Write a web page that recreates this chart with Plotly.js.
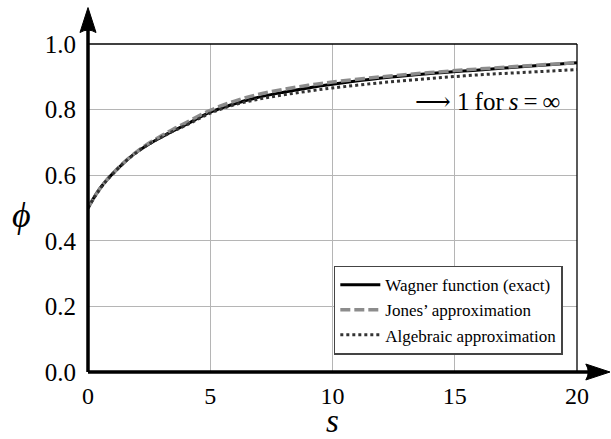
<!DOCTYPE html>
<html>
<head>
<meta charset="utf-8">
<script src="https://cdn.plot.ly/plotly-3.0.1.min.js"></script>
<style>html,body{margin:0;padding:0;background:#fff;}#chart{width:611px;height:439px;}</style>
</head>
<body>
<div id="chart"></div>
<script>
// Values
var s = [0, 0.25, 0.5, 0.75, 1, 1.5, 2, 2.5, 3, 3.5, 4, 5, 6, 7, 8, 9, 10, 12, 14, 16, 18, 20];
var wagner = [0.500, 0.533, 0.561, 0.584, 0.604, 0.640, 0.671, 0.695, 0.716, 0.736, 0.754, 0.792, 0.818, 0.838, 0.853, 0.866, 0.877, 0.896, 0.910, 0.921, 0.932, 0.943];
var jones = [0.500, 0.532, 0.560, 0.584, 0.604, 0.641, 0.672, 0.698, 0.720, 0.741, 0.760, 0.798, 0.826, 0.847, 0.862, 0.874, 0.884, 0.900, 0.913, 0.924, 0.934, 0.943];
var algebraic = [0.500, 0.531, 0.559, 0.583, 0.603, 0.640, 0.670, 0.695, 0.716, 0.735, 0.752, 0.789, 0.815, 0.832, 0.845, 0.856, 0.866, 0.882, 0.895, 0.906, 0.914, 0.922];
var seriesNames = ["Wagner function (exact)", "Jones\u2019 approximation", "Algebraic approximation"];
var xTicks = [0, 5, 10, 15, 20];
var yTicks = [0.0, 0.2, 0.4, 0.6, 0.8, 1.0];
var yTickText = ["0.0", "0.2", "0.4", "0.6", "0.8", "1.0"];
var xTitle = "<i>s</i>";
var yTitle = "<i>\u03d5</i>";
var note = "\u27f6 1\u2009for\u2009<i>s</i>\u2009=\u2009\u221e";

var serif = "'Liberation Serif', 'DejaVu Serif', serif";

var traces = [
  {x: s, y: wagner, name: seriesNames[0], mode: "lines", line: {color: "#000000", width: 3, shape: "spline"}},
  {x: s, y: jones, name: seriesNames[1], mode: "lines", line: {color: "#8c8c8c", width: 3.5, dash: "10px,4px", shape: "spline"}},
  {x: s, y: algebraic, name: seriesNames[2], mode: "lines", line: {color: "#333333", width: 3, dash: "3px,3px", shape: "spline"}}
];

var ax = 0.0164, ay = 0.0243;
var layout = {
  width: 611, height: 439,
  margin: {l: 88, r: 34, t: 43.5, b: 66.5},
  paper_bgcolor: "#ffffff", plot_bgcolor: "#ffffff",
  showlegend: true,
  font: {family: serif, color: "#000"},
  xaxis: {
    range: [0, 20], tickvals: xTicks, ticktext: xTicks.map(String),
    showgrid: true, gridcolor: "#b5b5b5", gridwidth: 1, zeroline: false, showline: false,
    ticks: "", ticklabelstandoff: 7,
    tickfont: {family: serif, size: 24, color: "#000"}
  },
  yaxis: {
    range: [0, 1], tickvals: yTicks, ticktext: yTickText,
    showgrid: true, gridcolor: "#b5b5b5", gridwidth: 1, zeroline: false, showline: false,
    ticks: "", ticklabelstandoff: 11,
    tickfont: {family: serif, size: 25, color: "#000"}
  },
  legend: {
    x: 0.971, y: 0.053, xanchor: "right", yanchor: "bottom",
    bgcolor: "#ffffff", bordercolor: "#444444", borderwidth: 1.5,
    font: {family: serif, size: 17, color: "#000"},
    tracegroupgap: 0, itemwidth: 40
  },
  annotations: [
    {xref: "paper", yref: "paper", x: 0.969, y: 0.825, xanchor: "right", yanchor: "middle",
     text: note, showarrow: false,
     font: {family: serif, size: 25, color: "#000"}},
    {xref: "paper", yref: "paper", x: 0.5, y: -0.148, xanchor: "center", yanchor: "middle",
     text: xTitle, showarrow: false,
     font: {family: serif, size: 33, color: "#000"}},
    {xref: "paper", yref: "paper", x: -0.137, y: 0.479, xanchor: "center", yanchor: "middle",
     text: yTitle, showarrow: false,
     font: {family: serif, size: 36, color: "#000"}}
  ],
  shapes: [
    {type: "line", xref: "paper", yref: "paper", x0: 0, x1: 1, y0: 1, y1: 1, line: {color: "#000", width: 1.3}},
    {type: "line", xref: "paper", yref: "paper", x0: 1, x1: 1, y0: 0, y1: 1, line: {color: "#000", width: 1.3}},
    {type: "line", xref: "paper", yref: "paper", x0: 0, x1: 0, y0: 0, y1: 1.06, line: {color: "#000", width: 3.5}},
    {type: "line", xref: "paper", yref: "paper", x0: 0, x1: 1.04, y0: 0, y1: 0, line: {color: "#000", width: 3.5}},
    {type: "path", xref: "paper", yref: "paper",
     path: "M 0 1.111 L " + (-ax) + " 1.035 Q 0 1.05 " + ax + " 1.035 Z",
     fillcolor: "#000", line: {color: "#000", width: 1}},
    {type: "path", xref: "paper", yref: "paper",
     path: "M 1.0675 0 L 1.018 " + ay + " Q 1.028 0 1.018 " + (-ay) + " Z",
     fillcolor: "#000", line: {color: "#000", width: 1}}
  ]
};

Plotly.newPlot("chart", traces, layout, {displayModeBar: false, staticPlot: true});
</script>
</body>
</html>
